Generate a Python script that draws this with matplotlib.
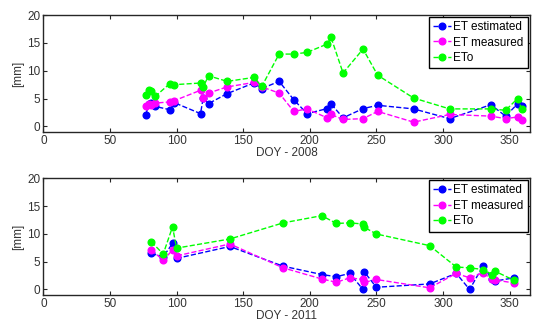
import matplotlib
matplotlib.use("Agg")
import matplotlib.pyplot as plt

plt.rcParams['font.family'] = ['Liberation Sans', 'DejaVu Sans']

doy_2008 = [77, 79, 81, 84, 95, 98, 118, 120, 124, 138, 158, 164, 177, 188, 198, 213, 216, 225, 240, 251, 278, 305, 336, 347, 356, 359]
est_2008 = [2.1, 4.0, 4.2, 3.6, 3.0, 4.3, 2.3, 5.1, 4.1, 5.9, 7.8, 6.8, 8.1, 4.8, 2.3, 3.2, 4.05, 1.55, 3.2, 3.8, 3.15, 1.4, 3.9, 1.85, 4.05, 3.75]
meas_2008 = [3.6, 4.1, 3.8, 4.2, 4.4, 4.6, 6.5, 5.1, 6.0, 7.1, 7.9, 7.1, 6.0, 2.7, 3.15, 1.55, 2.15, 1.25, 1.4, 2.7, 0.77, 2.15, 1.85, 1.4, 1.7, 1.1]
eto_2008 = [5.7, 6.6, 6.3, 5.4, 7.7, 7.5, 7.8, 7.1, 9.1, 8.1, 8.8, 7.2, 13.0, 13.0, 13.3, 14.8, 16.0, 9.6, 13.9, 9.2, 5.1, 3.15, 3.15, 2.9, 5.0, 3.2]

doy_2011 = [81, 90, 97, 100, 140, 180, 209, 220, 230, 240, 241, 250, 290, 310, 320, 330, 337, 339, 353]
est_2011 = [6.5, 5.9, 8.3, 5.6, 7.75, 4.2, 2.7, 2.3, 2.9, 0.0, 3.15, 0.4, 1.0, 2.9, 0.0, 4.2, 1.8, 1.5, 2.1]
meas_2011 = [7.1, 5.3, 7.1, 6.05, 8.2, 3.9, 1.9, 1.3, 2.1, 1.8, 1.3, 1.8, 0.3, 2.9, 2.1, 3.0, 1.8, 1.7, 1.2]
eto_2011 = [8.6, 6.4, 11.3, 7.45, 9.1, 12.0, 13.3, 11.9, 12.0, 11.8, 11.2, 10.0, 7.9, 4.05, 3.9, 3.6, 2.7, 3.3, 1.7]

series_labels = ['ET estimated', 'ET measured', 'ETo']
colors = ['#0000FF', '#FF00FF', '#00FF00']
x_ticks = [0, 50, 100, 150, 200, 250, 300, 350]
y_ticks = [0, 5, 10, 15, 20]

fig = plt.figure(figsize=(5.5, 3.33), dpi=100)
ax1 = fig.add_axes([0.0788, 0.6036, 0.884, 0.351])
ax2 = fig.add_axes([0.0788, 0.114, 0.884, 0.350])

panels = [
    (ax1, doy_2008, [est_2008, meas_2008, eto_2008], 'DOY - 2008'),
    (ax2, doy_2011, [est_2011, meas_2011, eto_2011], 'DOY - 2011'),
]

fs = 8.5
for ax, doy, vals, xl in panels:
    for v, lab, c in zip(vals, series_labels, colors):
        ax.plot(doy, v, linestyle='--', marker='o', color=c, markersize=4.8,
                linewidth=1.0, label=lab)
    ax.set_xlim(0, 365)
    ax.set_ylim(-1, 20)
    ax.set_xticks(x_ticks)
    ax.set_yticks(y_ticks)
    ax.tick_params(direction='in', top=True, right=True, labelsize=fs,
                   length=3, width=0.8, colors='#262626', labelcolor='#333333', pad=2)
    for s in ax.spines.values():
        s.set_linewidth(1.0)
        s.set_color('#262626')
    ax.set_xlabel(xl, fontsize=fs, color='#333333', labelpad=0)
    ax.set_ylabel('[mm]', fontsize=fs, color='#333333', labelpad=2)
    leg = ax.legend(loc='upper right', fontsize=fs, borderaxespad=0.15,
                    fancybox=False, framealpha=1, edgecolor='black',
                    handlelength=1.5, handletextpad=0.2, borderpad=0.35,
                    labelspacing=0.3)
    leg.get_frame().set_linewidth(1.0)

fig.savefig('out.png', dpi=100)
